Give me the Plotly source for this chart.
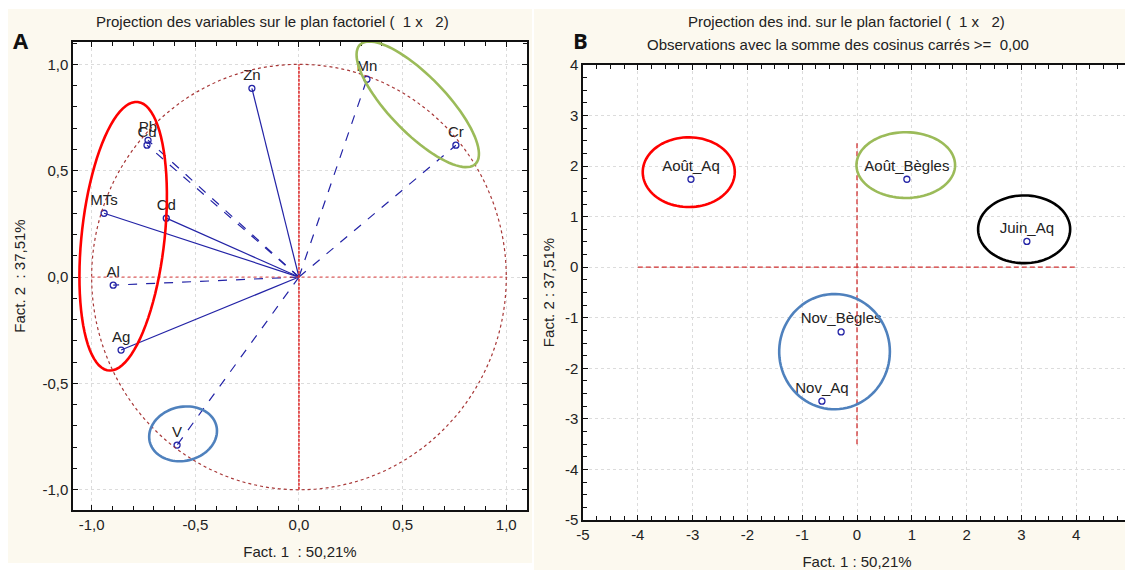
import numpy as np
import plotly.graph_objects as go

# ---------------- data ----------------
# Panel A: variables projection (factor loadings)
var_names = ["Zn", "Mn", "Cr", "Pb", "Cu", "MTs", "Cd", "Al", "Ag", "V"]
var_f1 = [-0.227, 0.328, 0.757, -0.728, -0.733, -0.940, -0.640, -0.896, -0.858, -0.588]
var_f2 = [0.887, 0.930, 0.620, 0.643, 0.620, 0.300, 0.277, -0.038, -0.343, -0.790]
var_dash = ["solid", "dash", "dash", "dash", "dash", "solid", "solid", "dash", "solid", "dash"]

# Panel B: individuals projection
ind_names = ["Août_Aq", "Août_Bègles", "Juin_Aq", "Nov_Bègles", "Nov_Aq"]
ind_f1 = [-3.03, 0.91, 3.10, -0.29, -0.64]
ind_f2 = [1.74, 1.74, 0.51, -1.28, -2.65]

# tick labels
a_tickvals = [-1.0, -0.5, 0.0, 0.5, 1.0]
a_ticktext = ["-1,0", "-0,5", "0,0", "0,5", "1,0"]
b_xtickvals = [-5, -4, -3, -2, -1, 0, 1, 2, 3, 4, 5]
b_ytickvals = [-5, -4, -3, -2, -1, 0, 1, 2, 3, 4]

# highlight ellipses: (cx, cy, rx, ry, angle_deg, colour)
a_ellipses = [(-0.848, 0.192, 0.635, 0.200, 83.6, "#ff0000"),
              (0.573, 0.812, 0.395, 0.135, -45.0, "#9bbb59"),
              (-0.559, -0.737, 0.165, 0.127, 12.0, "#4f81bd")]
b_ellipses = [(-3.07, 1.88, 0.84, 0.69, 0.0, "#ff0000"),
              (0.89, 2.02, 0.90, 0.65, 0.0, "#9bbb59"),
              (3.05, 0.75, 0.84, 0.67, 0.0, "#000000"),
              (-0.41, -1.67, 1.01, 1.14, 0.0, "#4f81bd")]

# ---------------- styles ----------------
FONT = "Liberation Sans, Arial, sans-serif"
NAVY = "#2323a6"
CREAM = "#fcf9ef"
TXT = "#222222"
W, H = 1133, 570
FS = 15
OFF = 8  # page body margin of the browser


def px(x):
    return (x - OFF) / W


def py(y):
    return (H - (y - OFF)) / H


def ellipse_path(cx, cy, rx, ry, ang, n=90):
    t = np.linspace(0, 2 * np.pi, n)
    a = np.radians(ang)
    xs = cx + rx * np.cos(t) * np.cos(a) - ry * np.sin(t) * np.sin(a)
    ys = cy + rx * np.cos(t) * np.sin(a) + ry * np.sin(t) * np.cos(a)
    return "M " + " L ".join(f"{x:.4f},{y:.4f}" for x, y in zip(xs, ys)) + " Z"


fig = go.Figure()

# Panel A vectors
for name, x, y, d in zip(var_names, var_f1, var_f2, var_dash):
    fig.add_trace(go.Scatter(x=[0, x], y=[0, y], mode="lines",
                             line=dict(color=NAVY, width=1.2, dash=d),
                             xaxis="x", yaxis="y", showlegend=False, hoverinfo="skip"))
fig.add_trace(go.Scatter(x=var_f1, y=var_f2, mode="markers+text", text=var_names,
                         textposition="top center",
                         textfont=dict(family=FONT, size=FS, color=TXT),
                         marker=dict(symbol="circle-open", size=6, color=NAVY, line=dict(width=1.3)),
                         xaxis="x", yaxis="y", showlegend=False))

# Panel B points
fig.add_trace(go.Scatter(x=ind_f1, y=ind_f2, mode="markers+text", text=ind_names,
                         textposition="top center",
                         textfont=dict(family=FONT, size=FS, color=TXT),
                         marker=dict(symbol="circle-open", size=6, color=NAVY, line=dict(width=1.3)),
                         xaxis="x2", yaxis="y2", showlegend=False))

shapes = []
# cream panel backgrounds
shapes.append(dict(type="rect", xref="paper", yref="paper", x0=px(7), x1=px(532), y0=py(563), y1=py(9),
                   fillcolor=CREAM, line=dict(width=0), layer="below"))
shapes.append(dict(type="rect", xref="paper", yref="paper", x0=px(534), x1=px(1150), y0=py(590), y1=py(9),
                   fillcolor=CREAM, line=dict(width=0), layer="below"))

axA_x = [73, 527]
axA_y = [42, 510]
axB_x = [583, 1131]
axB_y = [65, 520]
for xx, yy in [(axA_x, axA_y), (axB_x, axB_y)]:
    shapes.append(dict(type="rect", xref="paper", yref="paper", x0=px(xx[0]), x1=px(xx[1]),
                       y0=py(yy[1]), y1=py(yy[0]), fillcolor="white", line=dict(width=0), layer="below"))

# Panel A unit circle and axes through origin
shapes.append(dict(type="circle", xref="x", yref="y", x0=-1, x1=1, y0=-1, y1=1,
                   line=dict(color="#a83838", width=1.2, dash="dot")))
shapes.append(dict(type="line", xref="x", yref="y", x0=-1, x1=1, y0=0, y1=0,
                   line=dict(color="#e04040", width=1, dash="dot")))
shapes.append(dict(type="line", xref="x", yref="y", x0=0, x1=0, y0=-1, y1=1,
                   line=dict(color="#e03030", width=1.6, dash="3px,1px")))
# Panel B origin lines
shapes.append(dict(type="line", xref="x2", yref="y2", x0=-4, x1=4, y0=0, y1=0,
                   line=dict(color="#d03030", width=1.3, dash="5px,3px")))
shapes.append(dict(type="line", xref="x2", yref="y2", x0=0, x1=0, y0=-3.5, y1=2.5,
                   line=dict(color="#d03030", width=1.3, dash="5px,3px")))

for cx, cy, rx, ry, ang, col in a_ellipses:
    shapes.append(dict(type="path", xref="x", yref="y", path=ellipse_path(cx, cy, rx, ry, ang),
                       line=dict(color=col, width=2.6)))
for cx, cy, rx, ry, ang, col in b_ellipses:
    shapes.append(dict(type="path", xref="x2", yref="y2", path=ellipse_path(cx, cy, rx, ry, ang),
                       line=dict(color=col, width=2.6)))

common_axis = dict(showline=True, linecolor="#111111", linewidth=1.5, mirror="ticks",
                   ticks="inside", ticklen=5, tickcolor="#111111", zeroline=False,
                   showgrid=True, gridcolor="#dcdcdc", griddash="dot", gridwidth=1,
                   automargin=False,
                   tickfont=dict(family=FONT, size=FS, color=TXT),
                   title_font=dict(family=FONT, size=FS, color=TXT))

fig.update_layout(
    width=W, height=H, margin=dict(l=0, r=0, t=0, b=0, pad=0, autoexpand=False),
    paper_bgcolor="white", plot_bgcolor="white", showlegend=False,
    font=dict(family=FONT, size=FS, color=TXT),
    xaxis=dict(common_axis, domain=[px(axA_x[0]), px(axA_x[1])], range=[-1.09, 1.10],
               tickvals=a_tickvals, ticktext=a_ticktext,
               minor=dict(dtick=0.1, tick0=0, ticks="inside", ticklen=4, tickcolor="#111111", showgrid=False),
               title=dict(text="Fact. 1  : 50,21%", standoff=15), anchor="y"),
    yaxis=dict(common_axis, domain=[py(axA_y[1]), py(axA_y[0])], range=[-1.095, 1.105],
               tickvals=a_tickvals, ticktext=a_ticktext,
               minor=dict(dtick=0.1, tick0=0, ticks="inside", ticklen=4, tickcolor="#111111", showgrid=False),
               title=dict(text="Fact. 2  : 37,51%", standoff=13), anchor="x"),
    xaxis2=dict(common_axis, domain=[px(axB_x[0]), px(axB_x[1])], range=[-5, 5],
                tickvals=b_xtickvals, ticktext=[str(v) for v in b_xtickvals],
                minor=dict(dtick=0.25, tick0=0, ticks="inside", ticklen=4, tickcolor="#111111", showgrid=False),
                title=dict(text="Fact. 1 : 50,21%", standoff=15), anchor="y2"),
    yaxis2=dict(common_axis, domain=[py(axB_y[1]), py(axB_y[0])], range=[-5, 4],
                tickvals=b_ytickvals, ticktext=[str(v) for v in b_ytickvals],
                minor=dict(dtick=0.25, tick0=0, ticks="inside", ticklen=4, tickcolor="#111111", showgrid=False),
                title=dict(text="Fact. 2 : 37,51%", standoff=7), anchor="x2"),
    shapes=shapes,
    annotations=[
        dict(text="Projection des variables sur le plan factoriel (  1 x   2)", x=px(272), y=py(22),
             xref="paper", yref="paper", xanchor="center", yanchor="middle", showarrow=False,
             font=dict(family=FONT, size=FS, color=TXT)),
        dict(text="Projection des ind. sur le plan factoriel (  1 x   2)", x=px(846), y=py(22),
             xref="paper", yref="paper", xanchor="center", yanchor="middle", showarrow=False,
             font=dict(family=FONT, size=FS, color=TXT)),
        dict(text="Observations avec la somme des cosinus carrés >=  0,00", x=px(838), y=py(45),
             xref="paper", yref="paper", xanchor="center", yanchor="middle", showarrow=False,
             font=dict(family=FONT, size=FS, color=TXT)),
        dict(text="<b>A</b>", x=px(21), y=py(40), xref="paper", yref="paper", xanchor="center",
             yanchor="middle", showarrow=False,
             font=dict(family="Open Sans, Liberation Sans, sans-serif", size=22, color="#111111")),
        dict(text="<b>B</b>", x=px(580), y=py(40), xref="paper", yref="paper", xanchor="center",
             yanchor="middle", showarrow=False,
             font=dict(family="Open Sans, Liberation Sans, sans-serif", size=22, color="#111111")),
    ],
)

fig.write_html("out.html")
